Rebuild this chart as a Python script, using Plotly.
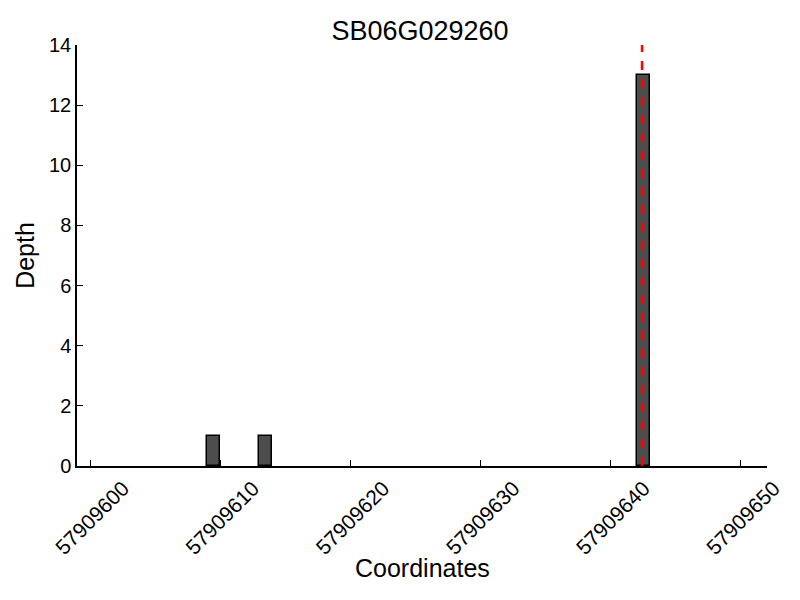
import plotly.graph_objects as go

title = "SB06G029260"
positions = [57909609, 57909613, 57909642]
depths = [1, 1, 13]
marker_pos = 57909642.4
x_ticks = [57909600, 57909610, 57909620, 57909630, 57909640, 57909650]
y_ticks = [0, 2, 4, 6, 8, 10, 12, 14]

fig = go.Figure()
fig.add_trace(go.Bar(
    x=positions, y=depths, width=1, offset=0,
    marker=dict(color="#4d4d4d", line=dict(color="black", width=1.5)),
    showlegend=False,
))
fig.add_shape(type="line", x0=marker_pos, x1=marker_pos, y0=0, y1=1,
              xref="x", yref="paper",
              line=dict(color="red", width=2.5, dash="dash"))

font = "Liberation Sans, Arial, sans-serif"
fig.update_layout(
    width=800, height=600,
    margin=dict(l=69, r=41, t=37, b=142),
    plot_bgcolor="white", paper_bgcolor="white",
    title=dict(text=title, x=0.515, xanchor="center", y=0.963, yanchor="middle",
               font=dict(family=font, size=27, color="black")),
    font=dict(family=font, color="black"),
    bargap=0,
)
fig.add_annotation(text="Coordinates", xref="paper", yref="paper",
                   x=0.5, y=-0.242, xanchor="center", yanchor="middle",
                   showarrow=False, font=dict(family=font, size=25, color="black"))
fig.update_xaxes(
    range=[57909599, 57909652],
    tickvals=x_ticks, ticktext=[str(t) for t in x_ticks],
    tickangle=-45, tickfont=dict(size=21),
    ticklabelshift=33,
    ticks="inside", ticklen=6, tickcolor="black",
    showline=True, linecolor="black", linewidth=1.5,
    showgrid=False, zeroline=False,
)
fig.update_yaxes(
    range=[0, 14],
    tickvals=y_ticks, tickfont=dict(size=20),
    ticks="inside", ticklen=6, tickcolor="black",
    showline=True, linecolor="black", linewidth=1.5,
    showgrid=False, zeroline=False,
    title=dict(text="Depth", font=dict(size=25), standoff=7),
)
fig.write_html("out.html")
